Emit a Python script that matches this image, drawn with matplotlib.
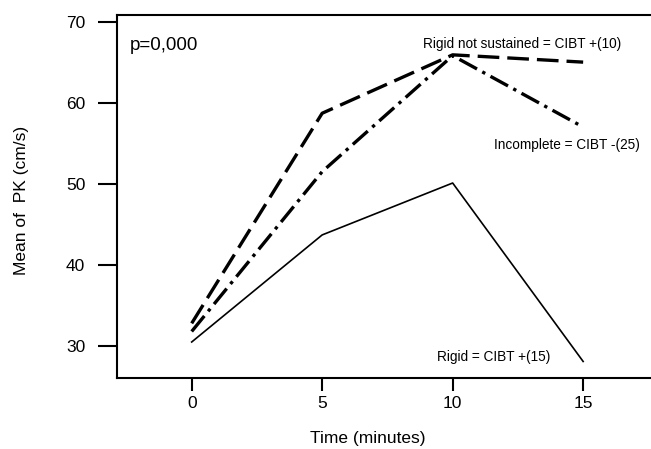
import matplotlib
matplotlib.use('Agg')
import matplotlib.pyplot as plt

plt.rcParams['font.family'] = ['Liberation Sans', 'DejaVu Sans']

# data
time = [0, 5, 10, 15]
rigid = [30.5, 43.7, 50.1, 28.1]
rigid_not_sustained = [32.8, 58.7, 65.9, 65.0]
incomplete = [31.8, 51.5, 65.8, 57.0]

x_ticks = [0, 5, 10, 15]
y_ticks = [30, 40, 50, 60, 70]

fig = plt.figure(figsize=(6.51, 4.49), dpi=100)
ax = fig.add_axes([0.1802, 0.1588, 0.8198, 0.8067])

ax.plot(time, rigid, color='black', lw=1.2)
ax.plot(time, rigid_not_sustained, color='black', lw=2.4, dashes=(6.5, 2.4))
ax.plot(time, incomplete, color='black', lw=2.4, dashes=(6.0, 1.8, 1.0, 1.8))

ax.set_xlim(-2.85, 17.6)
ax.set_ylim(26.1, 70.75)
ax.set_xticks(x_ticks)
ax.set_yticks(y_ticks)

ax.spines['right'].set_visible(False)
for s in ['left', 'top', 'bottom']:
    ax.spines[s].set_linewidth(1.5)

ax.tick_params(axis='y', length=14, width=1.5, pad=9, labelsize=12.5)
ax.tick_params(axis='x', length=9, width=1.5, pad=4, labelsize=12.5)

ax.set_xlabel('Time (minutes)', fontsize=12.5)
ax.xaxis.set_label_coords(0.4698, -0.148)
ax.set_ylabel('Mean of  PK (cm/s)', fontsize=12.5)
ax.yaxis.set_label_coords(-0.165, 0.49)

ax.text(-2.36, 67.1, 'p=0,000', fontsize=13.5, ha='left', va='center')
ax.text(12.65, 67.2, 'Rigid not sustained = CIBT +(10)', fontsize=9.8,
        ha='center', va='center')
ax.text(14.36, 54.8, 'Incomplete = CIBT -(25)', fontsize=9.8,
        ha='center', va='center')
ax.text(11.58, 28.6, 'Rigid = CIBT +(15)', fontsize=9.8,
        ha='center', va='center')

fig.savefig('out.png', dpi=100)
